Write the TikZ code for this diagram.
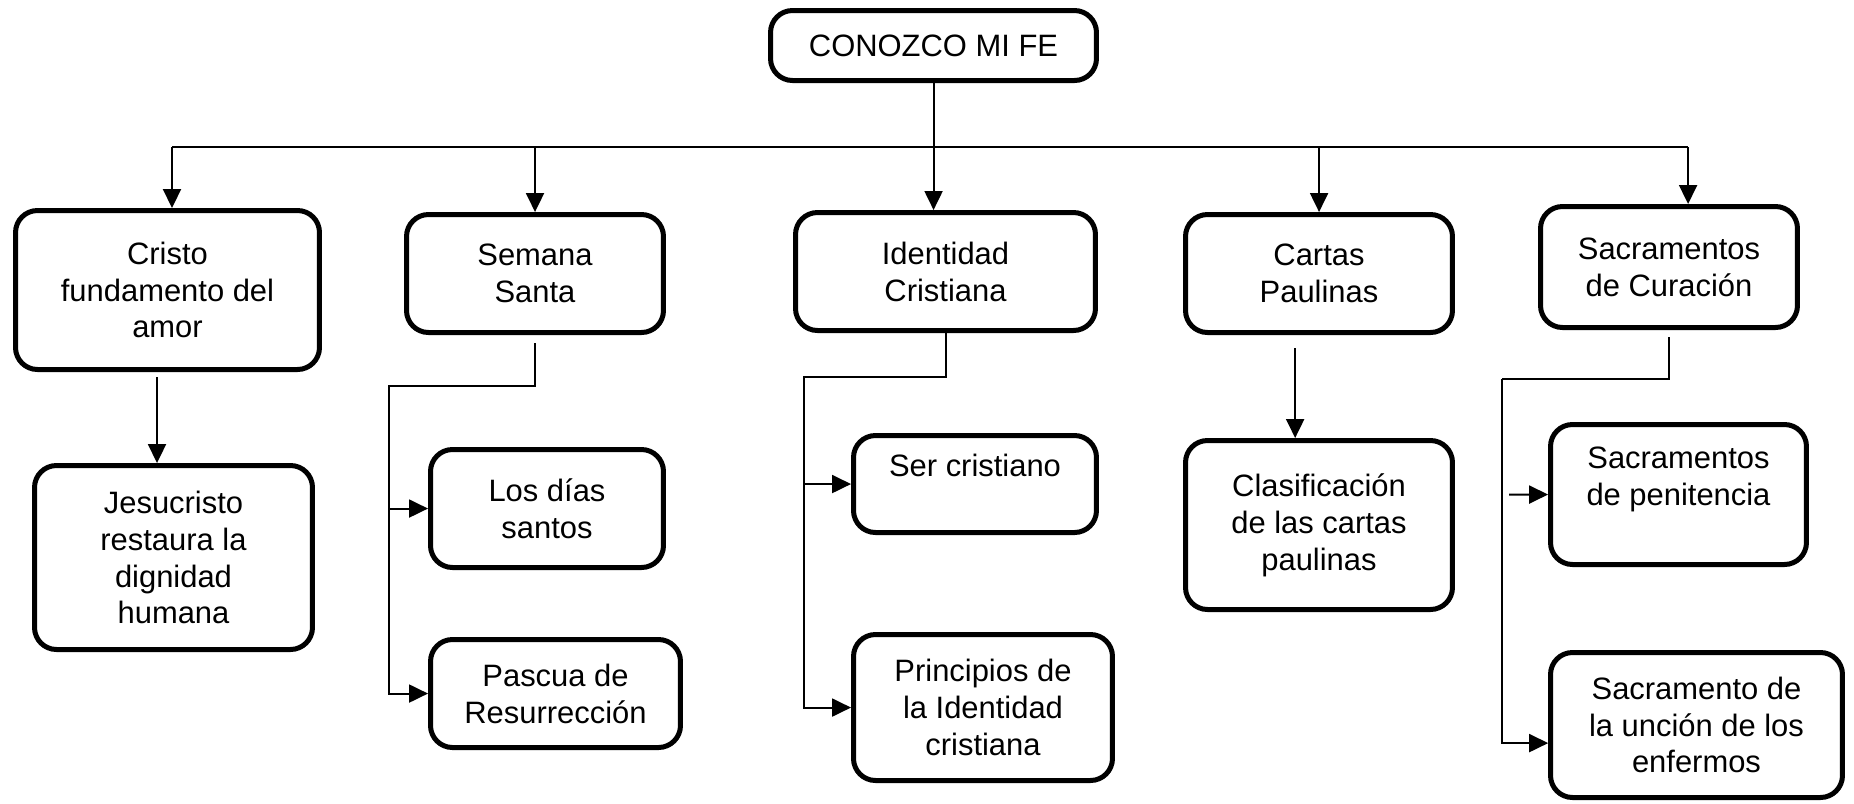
\documentclass[tikz,border=0pt]{standalone}
\usepackage{fontspec}
\setmainfont{Liberation Sans}
\usetikzlibrary{arrows.meta}
\begin{document}
\begin{tikzpicture}[scale=0.1]
\tikzstyle{every node}+=[inner sep=0pt]
\tikzstyle{caja}=[draw=black, line width=0.5mm, rounded corners=2.2mm, align=center, font=\fontsize{8.8}{10.5}\selectfont]
\tikzstyle{linea}=[black, line width=0.2mm]
\tikzstyle{flecha}=[linea, -{Triangle[width=1.8mm,length=1.9mm]}]
\useasboundingbox (0,0) rectangle (185.4,-80.3);
\node [caja, minimum width=32.6mm, minimum height=7.0mm] (raiz) at (93.35,-4.55) {CONOZCO MI FE};
\node [caja, minimum width=30.4mm, minimum height=15.9mm] (cristo) at (16.75,-29.0) {Cristo\\fundamento del\\amor};
\node [caja, minimum width=25.7mm, minimum height=11.8mm] (sem) at (53.5,-27.35) {Semana\\Santa};
\node [caja, minimum width=30.0mm, minimum height=11.8mm] (ident) at (94.55,-27.15) {Identidad\\Cristiana};
\node [caja, minimum width=26.7mm, minimum height=11.8mm] (cartas) at (131.9,-27.35) {Cartas\\Paulinas};
\node [caja, minimum width=25.7mm, minimum height=12.1mm] (cura) at (166.9,-26.7) {Sacramentos\\de Curación};
\node [caja, minimum width=27.8mm, minimum height=18.4mm] (jesus) at (17.35,-55.75) {Jesucristo\\restaura la\\dignidad\\humana};
\node [caja, minimum width=23.3mm, minimum height=11.8mm] (dias) at (54.7,-50.85) {Los días\\santos};
\node [caja, minimum width=25.0mm, minimum height=10.8mm] (pascua) at (55.55,-69.35) {Pascua de\\Resurrección};
\node [caja, minimum width=24.3mm, minimum height=9.7mm] (ser) at (97.5,-48.4) {Ser cristiano\\ \mbox{}};
\node [caja, minimum width=25.9mm, minimum height=14.6mm] (princ) at (98.3,-70.75) {Principios de\\la Identidad\\cristiana};
\node [caja, minimum width=26.7mm, minimum height=16.9mm] (clasif) at (131.9,-52.5) {Clasificación\\de las cartas\\paulinas};
\node [caja, minimum width=25.6mm, minimum height=14.0mm] (pen) at (167.85,-49.45) {Sacramentos\\de penitencia\\ \mbox{}};
\node [caja, minimum width=29.2mm, minimum height=14.5mm] (uncion) at (169.65,-72.5) {Sacramento de\\la unción de los\\enfermos};
\coordinate (barraizq) at (17.2,-14.7);
\coordinate (barrader) at (168.8,-14.7);
\coordinate (semcodo) at (38.9,-38.6);
\coordinate (idcodo) at (80.4,-37.7);
\coordinate (curacodo) at (150.2,-37.9);
\draw [flecha] (raiz.south) -- (raiz.south |- ident.north);
\draw [linea] (barraizq) -- (barrader);
\draw [flecha] (barraizq) -- (barraizq |- cristo.north);
\draw [flecha] (sem.north |- barraizq) -- (sem.north);
\draw [flecha] (cartas.north |- barraizq) -- (cartas.north);
\draw [flecha] (barrader) -- (barrader |- cura.north);
\path (cristo.south) ++(-1.05,-0.5) coordinate (cj);
\draw [flecha] (cj) -- (cj |- jesus.north);
\path (cartas.south) ++(-2.4,-1.3) coordinate (cc);
\draw [flecha] (cc) -- (cc |- clasif.north);
\path (sem.south) ++(0,-0.8) coordinate (ss);
\draw [flecha] (ss) |- (semcodo) |- (pascua.west);
\draw [flecha] (semcodo |- dias.west) -- (dias.west);
\draw [flecha] (ident.south) |- (idcodo) |- (princ.west);
\draw [flecha] (idcodo |- ser.west) -- (ser.west);
\path (cura.south) ++(0,-0.7) coordinate (cs);
\draw [linea] (cs) |- (curacodo);
\path (uncion.west) ++(0,-1.8) coordinate (uw);
\draw [flecha] (curacodo) |- (uw);
\path (pen.west) ++(-3.9,0) coordinate (pw);
\draw [flecha] (pw) -- (pen.west);
\end{tikzpicture}
\end{document}
